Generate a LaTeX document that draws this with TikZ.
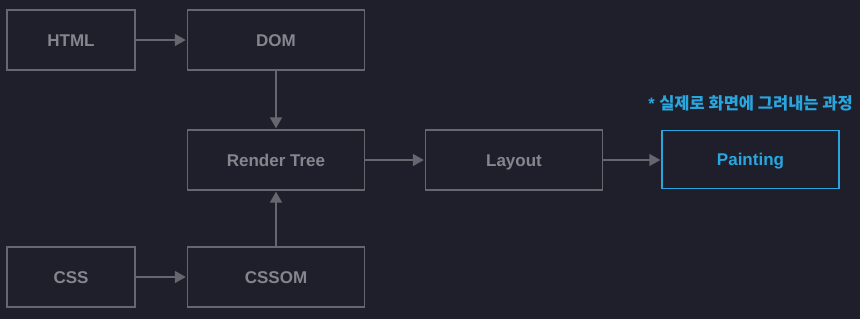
\documentclass[tikz,border=0pt]{standalone}
\usepackage{fontspec}
\setmainfont{Liberation Sans}
\newfontfamily\krfont{Noto Sans CJK KR}
\usetikzlibrary{arrows.meta}
\definecolor{bgc}{HTML}{1E1F2B}
\definecolor{edgec}{HTML}{66666E}
\definecolor{txtc}{HTML}{85858D}
\definecolor{hlc}{HTML}{2AA6DE}
\tikzset{
  stage/.style={draw=edgec, line width=1.4pt, fill=bgc, text=txtc,
    minimum height=60pt, inner sep=0pt, text height=12.3pt, text depth=0pt,
    font=\bfseries\fontsize{17}{20}\selectfont},
  smallbox/.style={stage, minimum width=128pt},
  widebox/.style={stage, minimum width=177pt},
  hibox/.style={stage, draw=hlc, text=hlc, minimum width=177pt, minimum height=58pt},
  flow/.style={draw=edgec, line width=1.6pt, shorten >=1pt, -{Triangle[length=11pt,width=12pt]}}
}
\begin{document}
\begin{tikzpicture}[x=1pt,y=-1pt]
  \fill[bgc] (0,0) rectangle (860,319);
  \useasboundingbox (0,0) rectangle (860,319);
  \node[smallbox] (html) at (71,40) {HTML};
  \node[widebox] (dom) at (276,40) {DOM};
  \node[widebox] (render) at (276,160) {Render Tree};
  \node[widebox] (layout) at (514,160) {Layout};
  \node[hibox] (paint) at (750.5,159.5) {Painting};
  \node[smallbox] (css) at (71,277) {CSS};
  \node[widebox] (cssom) at (276,277) {CSSOM};
  \node[text=hlc, anchor=east, inner sep=0pt, font=\bfseries\fontsize{16.5}{19}\selectfont]
    (note) at (853,103) {* {\krfont\bfseries 실제로 화면에 그려내는 과정}};
  \draw[flow] (html) -- (dom);
  \draw[flow] (css) -- (cssom);
  \draw[flow] (dom) -- (render);
  \draw[flow] (cssom) -- (render);
  \draw[flow] (render) -- (layout);
  \draw[flow] (layout.east) -- (layout.east -| paint.west);
\end{tikzpicture}
\end{document}
